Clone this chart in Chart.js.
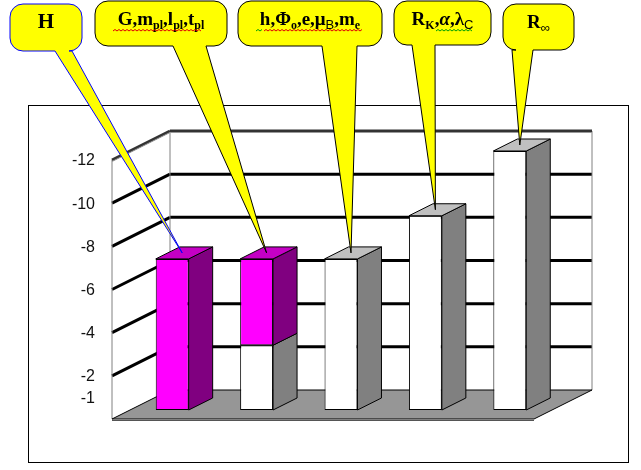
<!DOCTYPE html>
<html>
<head>
<meta charset="utf-8">
<script src="https://cdn.jsdelivr.net/npm/chart.js@4"></script>
<style>
  html, body { margin: 0; padding: 0; background: #fff; }
  #wrap { width: 641px; height: 470px; position: relative; }
</style>
</head>
<body>
<div id="wrap"><canvas id="chart"></canvas></div>
<script>
// categories = the constant groups named in the callouts
const CATEGORIES = ['H', 'G, m_pl, l_pl, t_pl', 'h, Φo, e, μB, me', 'R_K, α, λ_C', 'R∞'];
const WHITE_VALUES = [null, 3, 7, 9, 12];    // white (grey sided) part of each column
const MAGENTA_VALUES = [7, 4, null, null, null]; // magenta part, stacked on top
const TICK_VALUES = [1, 2, 4, 6, 8, 10, 12];
const TICK_LABELS = ['-1', '-2', '-4', '-6', '-8', '-10', '-12'];
const GRID_VALUES = [2, 4, 6, 8, 10];
const Y_MAX = 12;

// 3d offsets (px) relative to the plane where the bar fronts are drawn
const FRONT = { dx: -18, dy: 9 };
const BACK = { dx: 40, dy: -20 };
const DEPTH = { dx: 24, dy: -12 };

const FACE = {
    white: { front: '#ffffff', side: '#808080', top: '#c0c0c0' },
    magenta: { front: '#ff00ff', side: '#800080', top: '#c400c4' }
};

// callout boxes: position of the bubble, tail base on its bottom edge, text pieces
const CALLOUTS = [
    { box: [10, 4, 82, 51], tail: [55, 72], stroke: '#0000ff', baseline: 28,
      parts: [{ t: 'H', big: true }], squiggles: [] },
    { box: [95, 1, 227, 46], tail: [173, 206], stroke: '#000', baseline: 25,
      parts: [{ t: 'G,m' }, { t: 'pl', sub: 1 }, { t: ',l' }, { t: 'pl', sub: 1 }, { t: ',t' }, { t: 'pl', sub: 1 }],
      squiggles: [[113, 201, '#e00000']] },
    { box: [238, 1, 382, 46], tail: [322, 357], stroke: '#000', baseline: 25,
      parts: [{ t: 'h,Φ' }, { t: 'o', sub: 1 }, { t: ',e,μ' }, { t: 'B', sub: 2 }, { t: ',m' }, { t: 'e', sub: 1 }],
      squiggles: [[256, 263, '#00a000'], [264, 362, '#e00000']] },
    { box: [394, 1, 491, 45], tail: [412, 435], stroke: '#000', baseline: 25,
      parts: [{ t: 'R' }, { t: 'K', sub: 1 }, { t: ',' }, { t: 'α', it: true }, { t: ',λ' }, { t: 'C', sub: 2 }],
      squiggles: [[436, 472, '#00a000']] },
    { box: [503, 4, 574, 50], tail: [512, 533], stroke: '#000', baseline: 28,
      parts: [{ t: 'R' }, { t: '∞', sub: 2 }], squiggles: [] }
];

function partFont(p) {
    if (p.big) return 'bold 21px "Liberation Serif"';
    if (p.sub === 1) return 'bold 12px "Liberation Serif"';
    if (p.sub === 2) return '13px "Liberation Sans"';
    if (p.it) return 'bold italic 19px "Liberation Serif"';
    return 'bold 19px "Liberation Serif"';
}

function squiggle(ctx, x0, x1, y, color) {
    ctx.save();
    ctx.strokeStyle = color;
    ctx.lineWidth = 1;
    ctx.beginPath();
    let up = true;
    ctx.moveTo(x0, y);
    for (let x = x0 + 2; x <= x1; x += 2) {
        ctx.lineTo(x, up ? y - 1.5 : y);
        up = !up;
    }
    ctx.stroke();
    ctx.restore();
}

function drawCallout(ctx, c, tip) {
    const [x0, y0, x1, y1] = c.box;
    const r = 13;
    ctx.save();
    ctx.beginPath();
    ctx.moveTo(x0 + r, y0);
    ctx.lineTo(x1 - r, y0);
    ctx.arcTo(x1, y0, x1, y0 + r, r);
    ctx.lineTo(x1, y1 - r);
    ctx.arcTo(x1, y1, x1 - r, y1, r);
    ctx.lineTo(c.tail[1], y1);
    ctx.lineTo(tip.x, tip.y);
    ctx.lineTo(c.tail[0], y1);
    ctx.lineTo(x0 + r, y1);
    ctx.arcTo(x0, y1, x0, y1 - r, r);
    ctx.lineTo(x0, y0 + r);
    ctx.arcTo(x0, y0, x0 + r, y0, r);
    ctx.closePath();
    ctx.fillStyle = '#ffff00';
    ctx.fill();
    ctx.strokeStyle = c.stroke;
    ctx.lineWidth = 1;
    ctx.stroke();

    // text with subscripts, centred in the box
    let total = 0;
    c.parts.forEach(p => { ctx.font = partFont(p); total += ctx.measureText(p.t).width; });
    let x = (x0 + x1) / 2 - total / 2;
    ctx.fillStyle = '#000';
    ctx.textBaseline = 'alphabetic';
    ctx.textAlign = 'left';
    c.parts.forEach(p => {
        ctx.font = partFont(p);
        ctx.fillText(p.t, x, c.baseline + (p.sub ? 4 : 0));
        x += ctx.measureText(p.t).width;
    });
    c.squiggles.forEach(s => squiggle(ctx, s[0], s[1], c.baseline + 6, s[2]));
    ctx.restore();
}

function poly(ctx, pts, fill, stroke, lw) {
    ctx.beginPath();
    ctx.moveTo(pts[0][0], pts[0][1]);
    for (let i = 1; i < pts.length; i++) ctx.lineTo(pts[i][0], pts[i][1]);
    ctx.closePath();
    if (fill) { ctx.fillStyle = fill; ctx.fill(); }
    if (stroke) { ctx.strokeStyle = stroke; ctx.lineWidth = lw || 1; ctx.stroke(); }
}

function line(ctx, x0, y0, x1, y1, color, lw) {
    ctx.beginPath();
    ctx.moveTo(x0, y0);
    ctx.lineTo(x1, y1);
    ctx.strokeStyle = color;
    ctx.lineWidth = lw;
    ctx.stroke();
}

// top pixel of every column (the highest stacked segment)
function columnTops(chart) {
    const tops = [];
    chart.data.datasets.forEach((ds, d) => {
        const meta = chart.getDatasetMeta(d);
        ds.data.forEach((v, i) => {
            if (v === null) return;
            const el = meta.data[i];
            const top = Math.min(el.y, el.base);
            if (!tops[i] || top < tops[i].y) tops[i] = { x: el.x, y: top, w: el.width, d: d };
        });
    });
    return tops;
}

const depthPlugin = {
    id: 'depth3d',
    beforeDraw(chart) {
        const ctx = chart.ctx;
        ctx.save();
        ctx.strokeStyle = '#000';
        ctx.lineWidth = 1;
        ctx.strokeRect(28.5, 105.5, 600, 357);
        ctx.restore();
    },
    beforeDatasetsDraw(chart) {
        const { ctx, chartArea: a, scales: { y } } = chart;
        const yf = v => y.getPixelForValue(v) + FRONT.dy;
        const yb = v => y.getPixelForValue(v) + BACK.dy;
        const x0f = a.left + FRONT.dx, x1f = a.right + FRONT.dx;
        const x0b = a.left + BACK.dx, x1b = a.right + BACK.dx;
        ctx.save();
        // back wall
        poly(ctx, [[x0b, yb(Y_MAX)], [x1b, yb(Y_MAX)], [x1b, yb(0)], [x0b, yb(0)]], '#fff');
        // left wall
        poly(ctx, [[x0f, yf(0)], [x0f, yf(Y_MAX)], [x0b, yb(Y_MAX)], [x0b, yb(0)]], '#fff');
        GRID_VALUES.forEach(v => {
            line(ctx, x0b, yb(v), x1b, yb(v), '#000', 3);
            line(ctx, x0f, yf(v), x0b, yb(v), '#000', 3);
        });
        line(ctx, x0f, yf(0), x0f, yf(Y_MAX), '#808080', 1);
        line(ctx, x0b, yb(0), x0b, yb(Y_MAX), '#808080', 1);
        line(ctx, x1b, yb(0), x1b, yb(Y_MAX), '#808080', 1);
        // top edges
        line(ctx, x0f, yf(Y_MAX), x0b, yb(Y_MAX), '#333', 3);
        line(ctx, x0b, yb(Y_MAX), x1b, yb(Y_MAX), '#333', 3);
        line(ctx, x0f, yf(Y_MAX) + 1.5, x0b, yb(Y_MAX) + 1.5, '#999', 1);
        line(ctx, x0b, yb(Y_MAX) + 1.5, x1b, yb(Y_MAX) + 1.5, '#999', 1);
        // floor
        poly(ctx, [[x0f, yf(0)], [x1f, yf(0)], [x1b, yb(0)], [x0b, yb(0)]], '#969696', '#000', 1);
        line(ctx, x0f, yf(0) + 1.5, x1f, yf(0) + 1.5, '#555', 1);
        ctx.restore();
    },
    afterDatasetsDraw(chart) {
        const ctx = chart.ctx;
        const tops = columnTops(chart);
        ctx.save();
        chart.data.datasets.forEach((ds, d) => {
            const meta = chart.getDatasetMeta(d);
            const face = d === 0 ? FACE.white : FACE.magenta;
            ds.data.forEach((v, i) => {
                if (v === null) return;
                const el = meta.data[i];
                const l = el.x - el.width / 2, r = el.x + el.width / 2;
                const t = Math.min(el.y, el.base), b = Math.max(el.y, el.base);
                poly(ctx, [[r, b], [r + DEPTH.dx, b + DEPTH.dy], [r + DEPTH.dx, t + DEPTH.dy], [r, t]], face.side, '#000', 1);
                if (tops[i].d === d) {
                    poly(ctx, [[l, t], [l + DEPTH.dx, t + DEPTH.dy], [r + DEPTH.dx, t + DEPTH.dy], [r, t]], face.top, '#000', 1);
                }
            });
        });
        ctx.restore();
    },
    afterDraw(chart) {
        const ctx = chart.ctx;
        const tops = columnTops(chart);
        CALLOUTS.forEach((c, i) => {
            const t = tops[i];
            drawCallout(ctx, c, { x: t.x + 10, y: t.y + DEPTH.dy / 2 });
        });
    }
};

new Chart(document.getElementById('chart'), {
    type: 'bar',
    data: {
        labels: CATEGORIES,
        datasets: [{
            label: 'white',
            data: WHITE_VALUES,
            backgroundColor: FACE.white.front,
            borderColor: '#000',
            borderWidth: 1,
            borderSkipped: false
        }, {
            label: 'magenta',
            data: MAGENTA_VALUES,
            backgroundColor: FACE.magenta.front,
            borderColor: '#000',
            borderWidth: 1,
            borderSkipped: false
        }]
    },
    options: {
        responsive: true,
        maintainAspectRatio: false,
        animation: false,
        layout: { padding: { left: 60, right: 89, top: 151, bottom: 60 } },
        plugins: { legend: { display: false }, tooltip: { enabled: false } },
        datasets: { bar: { categoryPercentage: 1, barPercentage: 0.39 } },
        scales: {
            x: { stacked: true, display: false },
            y: {
                stacked: true,
                min: 0,
                max: Y_MAX,
                grid: { display: false, drawTicks: false },
                border: { display: false },
                afterBuildTicks: scale => { scale.ticks = TICK_VALUES.map(v => ({ value: v })); },
                afterFit: scale => { scale.width = 70; },
                ticks: {
                    autoSkip: false,
                    padding: 35,
                    labelOffset: 10,
                    color: '#111',
                    font: { family: '"Liberation Sans", Arial', size: 16 },
                    callback: (v, i) => TICK_LABELS[i]
                }
            }
        }
    },
    plugins: [depthPlugin]
});
</script>
</body>
</html>
